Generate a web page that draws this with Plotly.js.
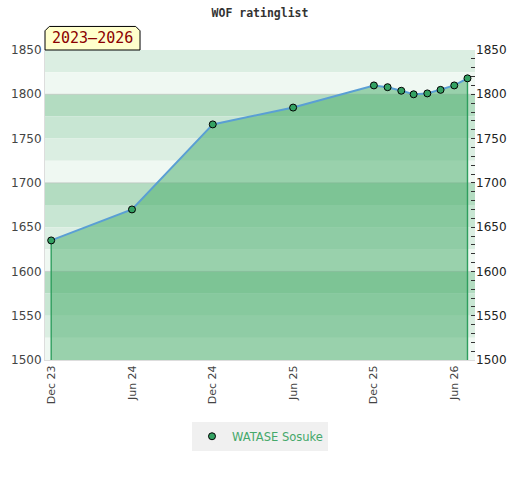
<!DOCTYPE html>
<html>
<head>
<meta charset="utf-8">
<script src="https://cdn.plot.ly/plotly-3.0.1.min.js"></script>
<style>html,body{margin:0;padding:0;background:#fff;}</style>
</head>
<body>
<div id="chart" style="width:520px;height:480px;"></div>
<script>
// Data
var dates = ['2023-12-01','2024-06-01','2024-12-01','2025-06-01','2025-12-01','2026-01-01','2026-02-01','2026-03-01','2026-04-01','2026-05-01','2026-06-01','2026-07-01'];
var ratings = [1635, 1670, 1766, 1785, 1810, 1808, 1804, 1800, 1801, 1805, 1810, 1818];
var playerName = 'WATASE Sosuke';
var periodLabel = '2023\u20132026';
var chartTitle = 'WOF ratinglist';

var yMin = 1500, yMax = 1850;
var bandColors = ['#b3dcc1', '#c8e6d3', '#dbeee2', '#eff8f2']; // per 100-point block, top to bottom

var shapes = [];
for (var bandTop = yMax; bandTop > yMin; bandTop -= 25) {
  var idx = (((1900 - bandTop) / 25) % 4 + 4) % 4;
  shapes.push({type:'rect', xref:'paper', yref:'y', x0:0, x1:1, y0:bandTop-25, y1:bandTop,
    fillcolor: bandColors[idx], line:{width:0}, layer:'below'});
}
// faint grid every 100
for (var g = 1600; g <= 1800; g += 100) {
  shapes.push({type:'line', xref:'paper', yref:'y', x0:0, x1:1, y0:g, y1:g,
    line:{color:'rgba(190,190,190,0.6)', width:1}, layer:'below'});
}
// badge with chamfered top corners (paper coords)
shapes.push({type:'path', xref:'paper', yref:'paper',
  path:'M 0 1 L 0 1.062 L 0.01 1.076 L 0.211 1.076 L 0.221 1.062 L 0.221 1 Z',
  fillcolor:'#ffffcc', line:{color:'#000', width:1}, layer:'above'});

var traces = [
  {x:dates, y:ratings, type:'scatter', mode:'lines', showlegend:false, hoverinfo:'skip',
   fill:'tozeroy', fillcolor:'rgba(80,176,112,0.54)', line:{width:0}},
  {x:[dates[0], dates[0]], y:[ratings[0], yMin], mode:'lines', line:{color:'#2e9e5e', width:1.4}, showlegend:false, hoverinfo:'skip'},
  {x:[dates[dates.length-1], dates[dates.length-1]], y:[ratings[ratings.length-1], yMin], mode:'lines', line:{color:'#2e9e5e', width:1.4}, showlegend:false, hoverinfo:'skip'},
  {x:dates, y:ratings, type:'scatter', mode:'lines+markers', name:playerName, showlegend:false,
   line:{color:'#5a9fd4', width:2},
   marker:{color:'#34a263', size:7, line:{color:'#000', width:1}}},
  {x:[null], y:[null], type:'scatter', mode:'markers', name:playerName, showlegend:true,
   marker:{color:'#34a263', size:7, line:{color:'#000', width:1}}},
  {x:dates, y:ratings, yaxis:'y2', mode:'none', showlegend:false, hoverinfo:'skip'}
];

var layout = {
  width:520, height:480,
  margin:{l:45, r:45, t:50, b:120},
  paper_bgcolor:'#fff', plot_bgcolor:'#fff',
  font:{family:'DejaVu Sans, sans-serif', size:12, color:'#444'},
  title:{text:chartTitle, x:0.5, xanchor:'center', y:0.973, yanchor:'middle',
    font:{family:'DejaVu Sans Mono, monospace', size:11.5, color:'#333', weight:'bold'}},
  xaxis:{type:'date', range:['2023-11-17','2026-07-18'], tick0:'2023-12-01', dtick:'M6',
    tickformat:'%b %y', tickangle:-90, showgrid:false, zeroline:false,
    showline:true, linecolor:'#ddd', linewidth:1, ticks:'',
    tickfont:{size:11, color:'#444'}},
  yaxis:{range:[yMin, yMax], dtick:50, showgrid:false,
    zeroline:false, showline:true, linecolor:'#ddd', linewidth:1, ticks:'',
    tickfont:{size:12, color:'#444'}},
  yaxis2:{range:[yMin, yMax], dtick:50, overlaying:'y', side:'right', showgrid:false,
    zeroline:false, ticks:'inside', ticklen:4, tickcolor:'#333', showline:false,
    minor:{dtick:10, ticks:'inside', ticklen:4, tickcolor:'#333'},
    tickfont:{size:12, color:'#222'}},
  shapes:shapes,
  annotations:[{xref:'paper', yref:'paper', x:0.11, y:1.038, xanchor:'center', yanchor:'middle',
    text:periodLabel, showarrow:false,
    font:{family:'DejaVu Sans Mono, monospace', size:15, color:'#8b0000'}}],
  legend:{orientation:'h', x:0.5, xanchor:'center', y:-0.246, yanchor:'middle',
    bgcolor:'#f0f0f0', font:{size:11.5, color:'#45a86a'}, itemwidth:30},
  showlegend:true
};

Plotly.newPlot('chart', traces, layout, {displayModeBar:false, staticPlot:true});
</script>
</body>
</html>
